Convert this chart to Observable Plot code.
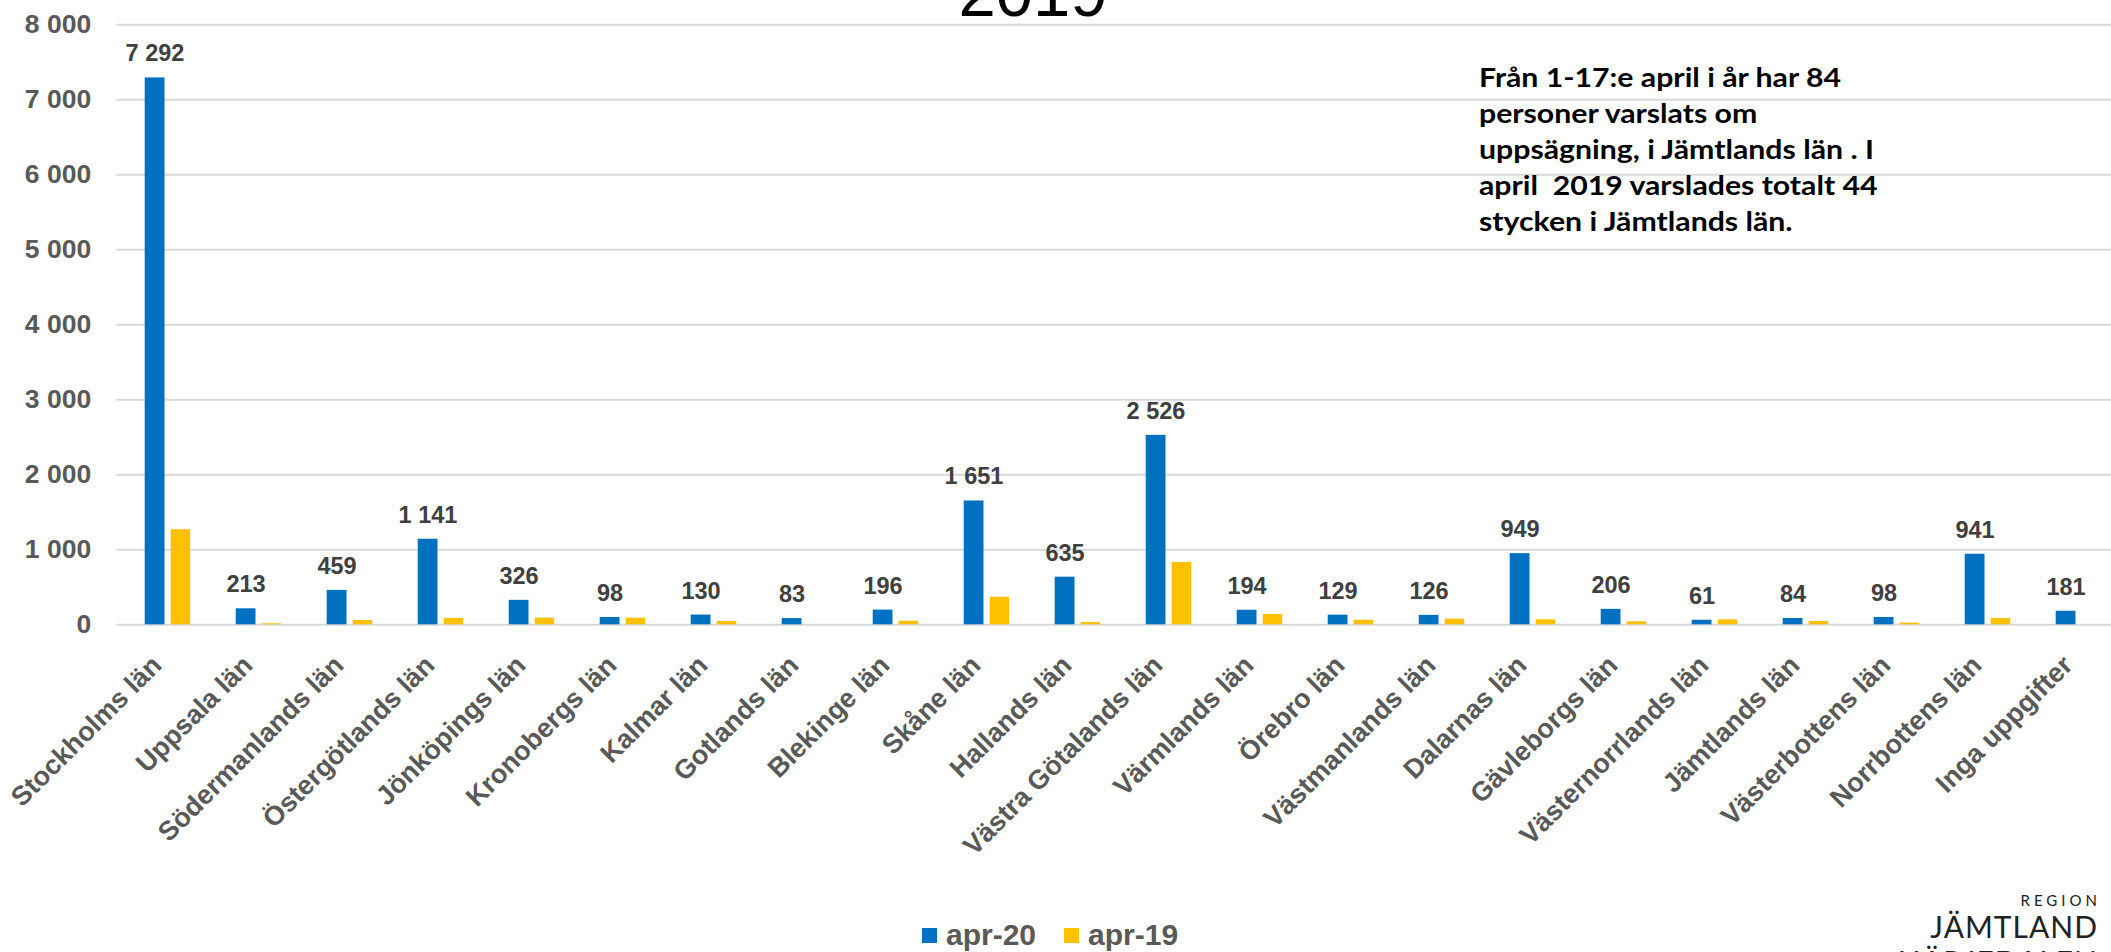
<!DOCTYPE html>
<html>
<head>
<meta charset="utf-8">
<script src="https://cdn.jsdelivr.net/npm/d3@7"></script>
<script src="https://cdn.jsdelivr.net/npm/@observablehq/plot@0.6"></script>
<style>
  html, body { margin: 0; padding: 0; background: #fff; overflow: hidden; }
  #wrap { position: relative; width: 2111px; height: 952px; overflow: hidden; }
  #chart svg { display: block; }
  #chart svg [aria-label^="y-axis"] text { font-size: 26.5px; font-weight: bold; fill: #595959; }
  #chart svg [aria-label^="x-axis"] text { font-size: 27px; font-weight: bold; fill: #595959; }
  #title { position: absolute; left: 0; width: 2066px; top: -40.7px; text-align: center;
           font: 67px/67px "Liberation Sans", Arial, sans-serif; color: #000; white-space: nowrap; }
  #note { position: absolute; left: 1479px; top: 59.3px; font: bold 27px/36px Lato, sans-serif; color: #000;
          white-space: pre; transform-origin: 0 0; }
  #legend { position: absolute; left: 922px; top: 919.6px; height: 30px; display: flex; align-items: flex-start;
            font: bold 30px/30px "Liberation Sans", Arial, sans-serif; color: #595959; white-space: nowrap; }
  #legend .sw { display: inline-block; width: 15.4px; height: 15.4px; margin-top: 8.4px; margin-right: 8.6px; }
  #legend .item { display: flex; margin-right: 28px; }
  .logo { position: absolute; right: 14px; font-family: Lato, sans-serif; color: #222; white-space: nowrap; }
  #logoR { top: 893.4px; font-size: 15px; line-height: 15px; letter-spacing: 4px; margin-right: -4px; }
  #logoJ { top: 910.7px; font-size: 30px; line-height: 30px; letter-spacing: 1px; margin-right: -1px; }
  #logoH { top: 946px; font-size: 30px; line-height: 30px; letter-spacing: 1px; margin-right: -1px; }
</style>
</head>
<body>
<div id="wrap">
  <div id="chart"></div>
  <div id="title">2019</div>
  <div id="note"></div>
  <div id="legend"></div>
  <div class="logo" id="logoR">REGION</div>
  <div class="logo" id="logoJ">JÄMTLAND</div>
  <div class="logo" id="logoH">HÄRJEDALEN</div>
</div>
<script>
const categories = ["Stockholms län", "Uppsala län", "Södermanlands län", "Östergötlands län", "Jönköpings län",
  "Kronobergs län", "Kalmar län", "Gotlands län", "Blekinge län", "Skåne län", "Hallands län",
  "Västra Götalands län", "Värmlands län", "Örebro län", "Västmanlands län", "Dalarnas län",
  "Gävleborgs län", "Västernorrlands län", "Jämtlands län", "Västerbottens län", "Norrbottens län", "Inga uppgifter"];
const apr20 = [7292, 213, 459, 1141, 326, 98, 130, 83, 196, 1651, 635, 2526, 194, 129, 126, 949, 206, 61, 84, 98, 941, 181];
const apr19 = [1267, 13, 57, 84, 89, 88, 44, 0, 48, 368, 31, 831, 137, 61, 75, 66, 40, 66, 44, 22, 84, 0];
const seriesNames = ["apr-20", "apr-19"];
const seriesColors = ["#0070C0", "#FFC000"];
const yTicks = [0, 1000, 2000, 3000, 4000, 5000, 6000, 7000, 8000];
const noteLines = ["Från 1-17:e april i år har 84", "personer varslats om", "uppsägning, i Jämtlands län . I",
  "april  2019 varslades totalt 44", "stycken i Jämtlands län."];

const fmt = d3.formatLocale({decimal: ",", thousands: "\u00a0", grouping: [3], currency: ["", ""]}).format(",d");
const table = categories.map((c, i) => ({region: c, apr20: apr20[i], apr19: apr19[i]}));

const H = 890;
const hasAxisMarks = typeof Plot.axisX === "function";
const axisMarks = hasAxisMarks ? [
  Plot.axisX({tickRotate: -45, tickSize: 0, tickPadding: 32, dx: -11, dy: 4, label: null,
    fontSize: 27, fontWeight: "bold", fill: "#595959"}),
  Plot.axisY({ticks: yTicks, tickFormat: fmt, tickSize: 0, tickPadding: 25.6, label: null,
    fontSize: 26.5, fontWeight: "bold", fill: "#595959"})
] : [];

const chart = Plot.plot({
  width: 2111,
  height: H,
  marginLeft: 116.3,
  marginRight: -18.3,
  marginTop: 24.3,
  marginBottom: H - 624.3,
  style: {fontFamily: "'Liberation Sans', Arial, sans-serif", background: "transparent", overflow: "hidden"},
  x: {domain: categories, padding: 0, tickRotate: -45, tickSize: 0, tickPadding: 32, label: null},
  y: {domain: [0, 8000], ticks: yTicks, tickFormat: fmt, tickSize: 0, tickPadding: 25.6, label: null},
  marks: [
    Plot.ruleY(yTicks, {stroke: "#D9D9D9", strokeWidth: 2}),
    Plot.barY(table, {x: "region", y: "apr20", fill: seriesColors[0], insetLeft: 22.7, insetRight: 48.5}),
    Plot.barY(table, {x: "region", y: "apr19", fill: seriesColors[1], insetLeft: 48.7, insetRight: 22.8}),
    Plot.text(table, {x: "region", y: "apr20", text: d => fmt(d.apr20), dx: -13, dy: -16.5, lineAnchor: "bottom",
      fontSize: 23.5, fontWeight: "bold", fill: "#404040"}),
    ...axisMarks
  ]
});
document.getElementById("chart").appendChild(chart);

// annotation text, fitted horizontally to the reference's line width
const note = document.getElementById("note");
noteLines.forEach(line => {
  const s = document.createElement("div");
  s.textContent = line;
  note.appendChild(s);
});
const probe = document.createElement("span");
probe.style.font = getComputedStyle(note).font;
probe.style.whiteSpace = "pre";
probe.style.position = "absolute";
probe.style.visibility = "hidden";
probe.textContent = noteLines[0];
document.body.appendChild(probe);
const w = probe.getBoundingClientRect().width;
probe.remove();
if (w > 0) note.style.transform = `scaleX(${362 / w})`;

const legend = document.getElementById("legend");
seriesNames.forEach((name, i) => {
  const item = document.createElement("div");
  item.className = "item";
  const sw = document.createElement("span");
  sw.className = "sw";
  sw.style.background = seriesColors[i];
  const t = document.createElement("span");
  t.textContent = name;
  item.appendChild(sw);
  item.appendChild(t);
  legend.appendChild(item);
});
</script>
</body>
</html>
